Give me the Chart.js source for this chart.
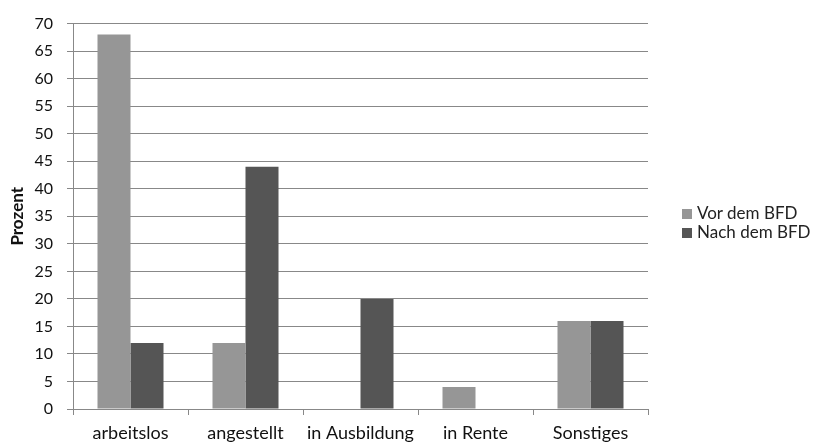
<!DOCTYPE html>
<html>
<head>
<meta charset="utf-8">
<script src="https://cdn.jsdelivr.net/npm/chart.js@4.4.1/dist/chart.umd.min.js"></script>
<style>
  html, body { margin: 0; padding: 0; background: #fff; }
  #wrap { width: 814px; height: 443px; position: relative; }
  #legend { position: absolute; left: 682px; top: 203px; font-family: Lato, sans-serif; font-size: 17px; color: #222; }
  #legend div { height: 19px; line-height: 19px; white-space: nowrap; }
  #legend span { display: inline-block; width: 10px; height: 10px; margin-right: 5px; vertical-align: 0px; }
</style>
</head>
<body>
<div id="wrap">
  <canvas id="barChart"></canvas>
  <div id="legend"></div>
</div>
<script>
// chart data
const categories = ["arbeitslos", "angestellt", "in Ausbildung", "in Rente", "Sonstiges"];
const vorDemBFD = [68, 12, 0, 4, 16];
const nachDemBFD = [12, 44, 20, 0, 16];
const yTicks = [0, 5, 10, 15, 20, 25, 30, 35, 40, 45, 50, 55, 60, 65, 70];

const fontFamily = "Lato, 'Open Sans', sans-serif";

const ctx = document.getElementById("barChart");

const myChart = new Chart(ctx, {
  type: "bar",
  data: {
    labels: categories,
    datasets: [
      {
        label: "Vor dem BFD",
        data: vorDemBFD,
        backgroundColor: "#969696",
        barPercentage: 1.0,
        categoryPercentage: 0.574,
      },
      {
        label: "Nach dem BFD",
        data: nachDemBFD,
        backgroundColor: "#555555",
        barPercentage: 1.0,
        categoryPercentage: 0.574,
      },
    ],
  },
  options: {
    responsive: true,
    maintainAspectRatio: false,
    animation: false,
    layout: {
      padding: { left: 0, right: 166, top: 23, bottom: 0 },
    },
    plugins: {
      tooltip: { enabled: false },
      legend: { display: false },
    },
    scales: {
      x: {
        afterFit: (axis) => {
          axis.height = 34;
        },
        grid: {
          display: true,
          drawOnChartArea: false,
          drawTicks: true,
          tickLength: 6,
          offset: true,
          color: "#888",
        },
        border: { display: true, color: "#888" },
        ticks: {
          color: "#111",
          padding: 7,
          maxRotation: 0,
          font: { family: fontFamily, size: 18 },
        },
      },
      y: {
        min: 0,
        max: 70,
        afterBuildTicks: (axis) => {
          axis.ticks = yTicks.map((v) => ({ value: v }));
        },
        afterFit: (axis) => {
          axis.width = 73;
        },
        title: {
          display: true,
          text: "Prozent",
          color: "#111",
          font: { family: fontFamily, size: 17, weight: "bold" },
          padding: { top: 7, bottom: 0 },
        },
        grid: {
          color: "#888",
          tickLength: 6,
        },
        border: { display: true, color: "#888" },
        ticks: {
          color: "#111",
          padding: 14,
          font: { family: fontFamily, size: 16 },
        },
      },
    },
  },
});

// legend built from the chart's datasets
const legendEl = document.getElementById("legend");
myChart.data.datasets.forEach((ds) => {
  const row = document.createElement("div");
  const box = document.createElement("span");
  box.style.background = ds.backgroundColor;
  row.appendChild(box);
  row.appendChild(document.createTextNode(ds.label));
  legendEl.appendChild(row);
});
</script>
</body>
</html>
